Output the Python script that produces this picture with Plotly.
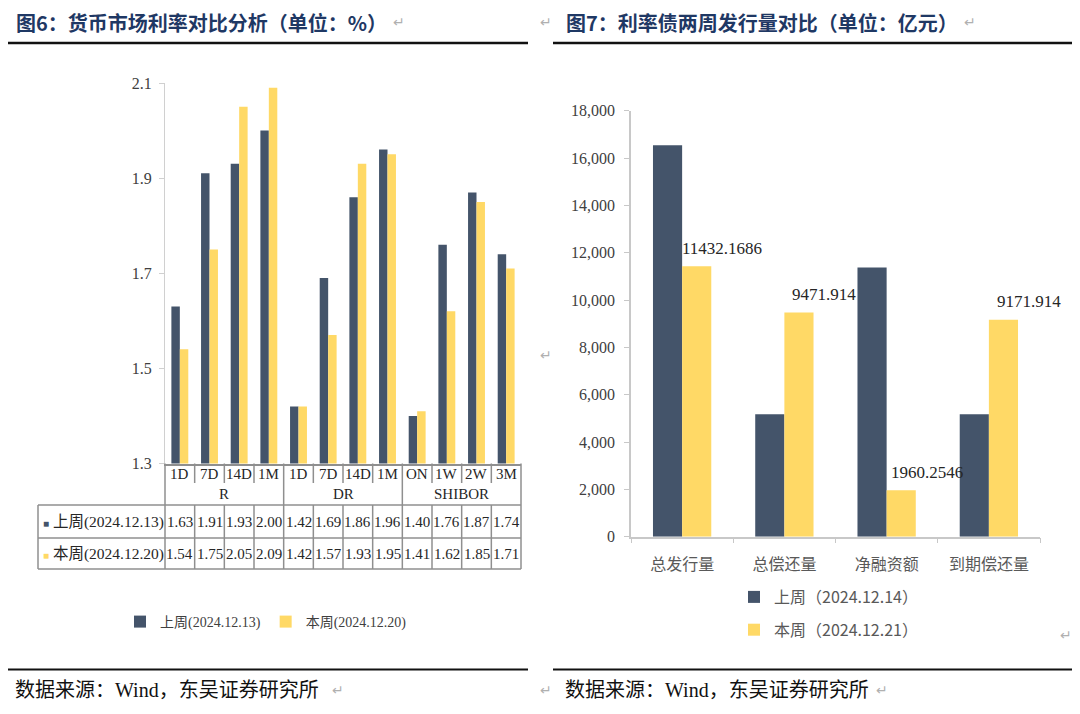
import plotly.graph_objects as go

# ---------------- data: left chart (money market rates, %) ----------------
rate_groups = ["R", "DR", "SHIBOR"]
rate_group_sizes = [4, 4, 4]
rate_tenors = ["1D", "7D", "14D", "1M", "1D", "7D", "14D", "1M", "ON", "1W", "2W", "3M"]
rate_prev = [1.63, 1.91, 1.93, 2.00, 1.42, 1.69, 1.86, 1.96, 1.40, 1.76, 1.87, 1.74]
rate_curr = [1.54, 1.75, 2.05, 2.09, 1.42, 1.57, 1.93, 1.95, 1.41, 1.62, 1.85, 1.71]
rate_prev_name = "上周(2024.12.13)"
rate_curr_name = "本周(2024.12.20)"
rate_yticks = [1.3, 1.5, 1.7, 1.9, 2.1]

# ---------------- data: right chart (rate bond issuance, 亿元) ----------------
issue_items = ["总发行量", "总偿还量", "净融资额", "到期偿还量"]
issue_prev = [16545, 5175, 11370, 5175]
issue_curr = [11432.1686, 9471.914, 1960.2546, 9171.914]
issue_curr_labels = ["11432.1686", "9471.914", "1960.2546", "9171.914"]
issue_prev_name = "上周（2024.12.14）"
issue_curr_name = "本周（2024.12.21）"
issue_yticks = [0, 2000, 4000, 6000, 8000, 10000, 12000, 14000, 16000, 18000]

title_left = "图6：货币市场利率对比分析（单位：%）"
title_right = "图7：利率债两周发行量对比（单位：亿元）"
source_text = "数据来源：Wind，东吴证券研究所"

# ---------------- styling ----------------
W, H = 1080, 714
OFF = 8  # page body margin compensation
DARK = "#44546A"
YELLOW = "#FFD966"
SERIF = "Liberation Serif, Noto Sans CJK SC, serif"
SANS = "Noto Sans CJK SC, sans-serif"
TITLE_C = "#1F3864"
TABLE_LINE = "#8f8f8f"
MARK_C = "#b0b0b0"


def px(x):
    return (x - OFF) / W


def py(y):
    return 1 - (y - OFF) / H


fig = go.Figure()

xs = list(range(len(rate_tenors)))
fig.add_trace(go.Bar(x=xs, y=rate_prev, name=rate_prev_name, marker_color=DARK,
                     xaxis="x", yaxis="y", legend="legend"))
fig.add_trace(go.Bar(x=xs, y=rate_curr, name=rate_curr_name, marker_color=YELLOW,
                     xaxis="x", yaxis="y", legend="legend"))

fig.add_trace(go.Bar(x=issue_items, y=issue_prev, name=issue_prev_name, marker_color=DARK,
                     xaxis="x2", yaxis="y2", legend="legend2", legendgroup="a"))
fig.add_trace(go.Bar(x=issue_items, y=issue_curr, name=issue_curr_name, marker_color=YELLOW,
                     xaxis="x2", yaxis="y2", legend="legend2", legendgroup="b"))

# plot area pixel geometry
L_X0, L_X1, L_Y0, L_Y1 = 165, 521, 83, 463.5
R_X0, R_X1, R_Y0, R_Y1 = 631, 1040, 110.7, 536.7

fig.update_layout(
    template="none",
    width=W, height=H, autosize=False,
    margin=dict(l=0, r=0, t=0, b=0, pad=0, autoexpand=False),
    paper_bgcolor="white", plot_bgcolor="white",
    barmode="group", bargap=0.43, bargroupgap=0,
    xaxis=dict(domain=[px(L_X0), px(L_X1)], range=[-0.5, len(rate_tenors) - 0.5],
               showticklabels=False, ticks="", showgrid=False, zeroline=False, automargin=False,
               showline=True, linecolor=TABLE_LINE, linewidth=1.5, anchor="y", fixedrange=True),
    yaxis=dict(domain=[py(L_Y1), py(L_Y0)], range=[1.3, 2.1], automargin=False,
               tickvals=rate_yticks, ticktext=[f"{v:.1f}" for v in rate_yticks],
               showgrid=False, zeroline=False, showline=True, linecolor="#d0d0d0",
               ticks="outside", ticklen=5, tickcolor="#d0d0d0", ticklabelstandoff=4,
               tickfont=dict(family=SERIF, size=16, color="#404040"), anchor="x", fixedrange=True),
    xaxis2=dict(domain=[px(R_X0), px(R_X1)], type="category", automargin=False,
                range=[-0.5, len(issue_items) - 0.5],
                ticks="outside", tickson="boundaries", ticklen=5, tickcolor="#c8c8c8",
                showline=True, linecolor="#c8c8c8", linewidth=1.5, showgrid=False, zeroline=False,
                ticklabelstandoff=12,
                tickfont=dict(family=SANS, size=16, color="#595959"), anchor="y2", fixedrange=True),
    yaxis2=dict(domain=[py(R_Y1), py(R_Y0)], range=[0, 18000], automargin=False,
                tickvals=issue_yticks, tickformat=",",
                showgrid=False, zeroline=False, showline=True, linecolor="#c8c8c8", linewidth=1.5,
                ticks="outside", ticklen=5, tickcolor="#c8c8c8", ticklabelstandoff=6,
                tickfont=dict(family=SERIF, size=16, color="#404040"), anchor="x2", fixedrange=True),
    legend=dict(orientation="h", x=px(120), xanchor="left", y=py(622), yanchor="middle",
                font=dict(family=SERIF, size=14, color="#404040"),
                bgcolor="rgba(0,0,0,0)", itemwidth=30),
    legend2=dict(orientation="v", x=px(734), xanchor="left", y=py(580), yanchor="top",
                 font=dict(family=SANS, size=16, color="#595959"),
                 bgcolor="rgba(0,0,0,0)", tracegroupgap=9),
    showlegend=True,
)

shapes = []
annotations = []


def hline(x0, x1, y, color=TABLE_LINE, width=1.5, xref="paper"):
    shapes.append(dict(type="line", xref=xref, yref="paper", x0=x0, x1=x1,
                       y0=py(y), y1=py(y), line=dict(color=color, width=width)))


def vline(x, y0, y1, color=TABLE_LINE, width=1.5, xref="paper"):
    shapes.append(dict(type="line", xref=xref, yref="paper", x0=x, x1=x,
                       y0=py(y0), y1=py(y1), line=dict(color=color, width=width)))


def note(x, y, text, font, xref="paper", yref="paper", xanchor="center", yanchor="middle", **kw):
    annotations.append(dict(xref=xref, yref=yref, x=x, y=y, text=text, showarrow=False,
                            xanchor=xanchor, yanchor=yanchor, font=font, **kw))


# ---------------- left table ----------------
T_TOP, T_CAT, T_GRP, T_R1, T_R2 = 463.5, 483, 505, 538, 569
T_LEFT = 38
hline(px(T_LEFT), px(L_X1), T_GRP)
hline(px(T_LEFT), px(L_X1), T_R1)
hline(px(T_LEFT), px(L_X1), T_R2)
vline(px(T_LEFT), T_GRP, T_R2)
vline(px(L_X0), T_TOP, T_R2)
vline(px(L_X1), T_TOP, T_R2)

n = len(rate_tenors)
boundaries = []
acc = 0
for s in rate_group_sizes[:-1]:
    acc += s
    boundaries.append(acc)
for i in range(1, n):
    xb = i - 0.5
    if i in boundaries:
        vline(xb, T_TOP, T_R2, xref="x")
    else:
        vline(xb, T_TOP, T_CAT, xref="x")
        vline(xb, T_GRP, T_R2, xref="x")

cell_font = dict(family=SERIF, size=15, color="#262626")
for i, t in enumerate(rate_tenors):
    note(i, py((T_TOP + T_CAT) / 2 + 1), t, cell_font, xref="x")
    note(i, py((T_GRP + T_R1) / 2), f"{rate_prev[i]:.2f}", cell_font, xref="x")
    note(i, py((T_R1 + T_R2) / 2), f"{rate_curr[i]:.2f}", cell_font, xref="x")
start = 0
for g, s in zip(rate_groups, rate_group_sizes):
    note(start + (s - 1) / 2, py((T_CAT + T_GRP) / 2), g, cell_font, xref="x")
    start += s

for name, color, (ya, yb) in [(rate_prev_name, DARK, (T_GRP, T_R1)),
                              (rate_curr_name, YELLOW, (T_R1, T_R2))]:
    note(px(T_LEFT + 3), py((ya + yb) / 2),
         f"<span style='color:{color};font-size:10px'>■</span> {name}",
         dict(family=SERIF, size=15.5, color="#262626"), xanchor="left")

# ---------------- right data labels ----------------
for item, v, lab in zip(issue_items, issue_curr, issue_curr_labels):
    note(item, v, lab, dict(family=SERIF, size=17, color="#262626"),
         xref="x2", yref="y2", xshift=40, yshift=18)

# ---------------- titles, rules, sources ----------------
note(px(14), py(22), f"<b>{title_left}</b>", dict(family=SANS, size=20, color=TITLE_C),
     xanchor="left")
note(px(564), py(22), f"<b>{title_right}</b>", dict(family=SANS, size=20, color=TITLE_C),
     xanchor="left")
hline(px(2), px(528), 43, color="#111111", width=2.5)
hline(px(553), px(1078), 43, color="#111111", width=2.5)
hline(px(0), px(528), 669.5, color="#111111", width=2)
hline(px(553), px(1078), 669.5, color="#111111", width=2)

note(px(13), py(690), source_text, dict(family=SERIF, size=20, color="#111111"), xanchor="left")
note(px(563), py(690), source_text, dict(family=SERIF, size=20, color="#111111"), xanchor="left")

# Word paragraph marks
marks = [(399, 22, "↵"), (546, 22, "↵"), (970, 22, "↵"), (546, 355, "↵"),
         (1066, 635, "↵"), (338, 690, "↵"), (546, 690, "↵"), (882, 690, "↵")]
for mx, my, mt in marks:
    note(px(mx), py(my), mt, dict(family="DejaVu Sans", size=14, color=MARK_C))

fig.update_layout(shapes=shapes, annotations=annotations)
fig.write_html("out.html")
